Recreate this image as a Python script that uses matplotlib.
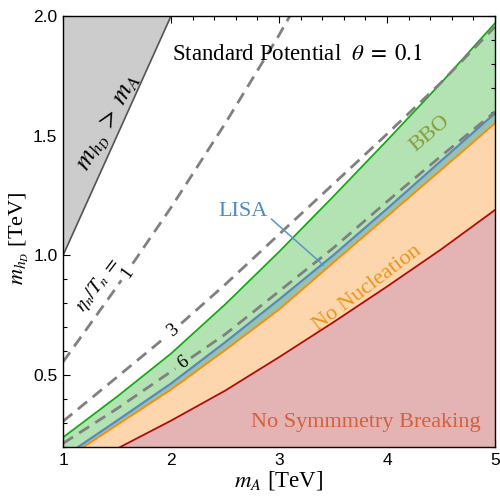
import numpy as np
import matplotlib
matplotlib.use("Agg")
import matplotlib.pyplot as plt
from matplotlib.ticker import MultipleLocator, FormatStrFormatter

plt.rcParams['font.family'] = ['Liberation Serif', 'DejaVu Serif']
plt.rcParams['mathtext.fontset'] = 'stix'

# ---- data (TeV) ----
green_ma = [1.0, 1.5, 2.0, 2.5, 3.0, 3.5, 4.0, 4.5, 5.0]
green_m = [0.24, 0.41, 0.59, 0.795, 1.015, 1.245, 1.48, 1.72, 1.97]

blue_ma = [1.14, 1.5, 2.0, 2.5, 3.0, 3.5, 4.0, 4.5, 5.0]
blue_m = [0.2, 0.31, 0.465, 0.637, 0.816, 1.0, 1.195, 1.395, 1.594]

orange_ma = [1.19, 1.5, 2.0, 2.5, 3.0, 3.5, 4.0, 4.5, 5.0]
orange_m = [0.2, 0.292, 0.44, 0.604, 0.774, 0.969, 1.163, 1.357, 1.552]

red_ma = [1.53, 2.0, 2.5, 3.0, 3.5, 4.0, 4.5, 5.0]
red_m = [0.2, 0.31, 0.435, 0.575, 0.72, 0.87, 1.025, 1.19]

dash1_ma = [1.0, 1.5, 2.0, 2.5, 3.0, 3.1]
dash1_m = [0.555, 0.87, 1.2, 1.55, 1.92, 2.0]

dash3_ma = [1.0, 1.5, 2.0, 2.5, 3.0, 3.5, 4.0, 4.5, 5.0]
dash3_m = [0.307, 0.492, 0.678, 0.878, 1.088, 1.297, 1.507, 1.722, 1.955]

dash6_ma = [1.0, 1.5, 2.0, 2.5, 3.0, 3.5, 4.0, 4.5, 5.0]
dash6_m = [0.215, 0.36, 0.515, 0.67, 0.85, 1.03, 1.225, 1.415, 1.60]

gray_ma = [1.0, 2.0]
gray_m = [1.0, 2.0]

x_ticks = [1, 2, 3, 4, 5]
y_ticks = [0.5, 1.0, 1.5, 2.0]

# ---- figure ----
fig = plt.figure(figsize=(5, 4.99), dpi=100)
ax = fig.add_axes([0.126, 0.1042, 0.864, 0.8637])
ax.set_xlim(1, 5)
ax.set_ylim(0.2, 2.0)
ymin = 0.2

# fills
ax.fill_between(green_ma, green_m, ymin, color='#b3e3b3', lw=0, zorder=1)
ax.fill_between(blue_ma, blue_m, ymin, color='#96c1ae', lw=0, zorder=2)
ax.fill_between(orange_ma, orange_m, ymin, color='#fdd6ad', lw=0, zorder=3)
ax.fill_between(red_ma, red_m, ymin, color='#e4b3b3', lw=0, zorder=4)
ax.fill_between(gray_ma, gray_m, 2.0, color='#cccccc', lw=0, zorder=4)

# boundary lines
ax.plot(green_ma, green_m, color='#16a816', lw=1.3, zorder=6)
ax.plot(blue_ma, blue_m, color='#5b86bf', lw=1.6, zorder=6)
ax.plot(orange_ma, orange_m, color='#ff8c00', lw=1.3, zorder=6)
ax.plot(red_ma, red_m, color='#b00c0c', lw=1.3, zorder=6)
ax.plot(gray_ma, gray_m, color='#555555', lw=1.2, zorder=6)


def dashed(xs, ys, gap):
    xs = np.asarray(xs, float)
    ys = np.asarray(ys, float)
    g0, g1 = gap
    y0 = np.interp(g0, xs, ys)
    y1 = np.interp(g1, xs, ys)
    m0 = xs < g0
    m1 = xs > g1
    seg_a = (np.r_[xs[m0], g0], np.r_[ys[m0], y0])
    seg_b = (np.r_[g1, xs[m1]], np.r_[y1, ys[m1]])
    for sx, sy in (seg_a, seg_b):
        ax.plot(sx, sy, color='#808080', lw=2.0, zorder=7,
                linestyle=(0, (4.3, 2.6)), solid_capstyle='butt',
                dash_capstyle='butt')


dashed(dash1_ma, dash1_m, (1.54, 1.645))
dashed(dash3_ma, dash3_m, (1.95, 2.095))
dashed(dash6_ma, dash6_m, (2.04, 2.185))

# contour labels
ax.text(1.595, 0.93, '1', rotation=54, fontsize=13, ha='center', va='center', zorder=8)
ax.text(1.33, 0.875, r'$\eta_n/T_n\;=$', rotation=53, fontsize=14, ha='center', va='center', zorder=8)
ax.text(2.02, 0.685, '3', rotation=39, fontsize=13.5, ha='center', va='center', zorder=8)
ax.text(2.11, 0.553, '6', rotation=36, fontsize=13.5, ha='center', va='center', zorder=8)

# region labels
ax.text(3.17, 1.84, r'Standard Potential  $\theta\;=\;0.1$', fontsize=16.5,
        ha='center', va='center', zorder=8)
ax.text(1.44, 1.552, r'$m_{h_D}\;>\;m_A$', rotation=61, fontsize=19,
        ha='center', va='center', zorder=8)
ax.text(4.40, 1.507, 'BBO', rotation=40, fontsize=16, color='#8c9b3e',
        ha='center', va='center', zorder=8)
ax.text(2.67, 1.185, 'LISA', fontsize=16, color='#4f8bbd',
        ha='center', va='center', zorder=8)
ax.plot([2.932, 3.41], [1.151, 0.960], color='#5a96c8', lw=1.1, zorder=8)
ax.text(3.82, 0.862, 'No Nucleation', rotation=37, fontsize=16, color='#e8961a',
        ha='center', va='center', zorder=8)
ax.text(3.80, 0.304, 'No Symmmetry Breaking', fontsize=16, color='#d65f3c',
        ha='center', va='center', zorder=8)

# axes styling
ax.set_xticks(x_ticks)
ax.set_yticks(y_ticks)
ax.xaxis.set_minor_locator(MultipleLocator(0.2))
ax.yaxis.set_minor_locator(MultipleLocator(0.1))
ax.yaxis.set_major_formatter(FormatStrFormatter('%.1f'))
ax.tick_params(which='both', direction='in', top=True, right=True, width=0.8)
ax.tick_params(which='major', length=5, labelsize=12.5, pad=4)
ax.tick_params(which='minor', length=2.8)
for lab in ax.get_xticklabels() + ax.get_yticklabels():
    lab.set_fontfamily(['Liberation Sans', 'DejaVu Sans'])
for sp in ax.spines.values():
    sp.set_linewidth(1.0)
    sp.set_zorder(10)

ax.set_xlabel(r'$m_A$ [TeV]', fontsize=16.5, labelpad=1)
ax.set_ylabel(r'$m_{h_D}$ [TeV]', fontsize=16)
ax.yaxis.set_label_coords(-0.075, 0.484)

fig.savefig('out.png', dpi=100)
